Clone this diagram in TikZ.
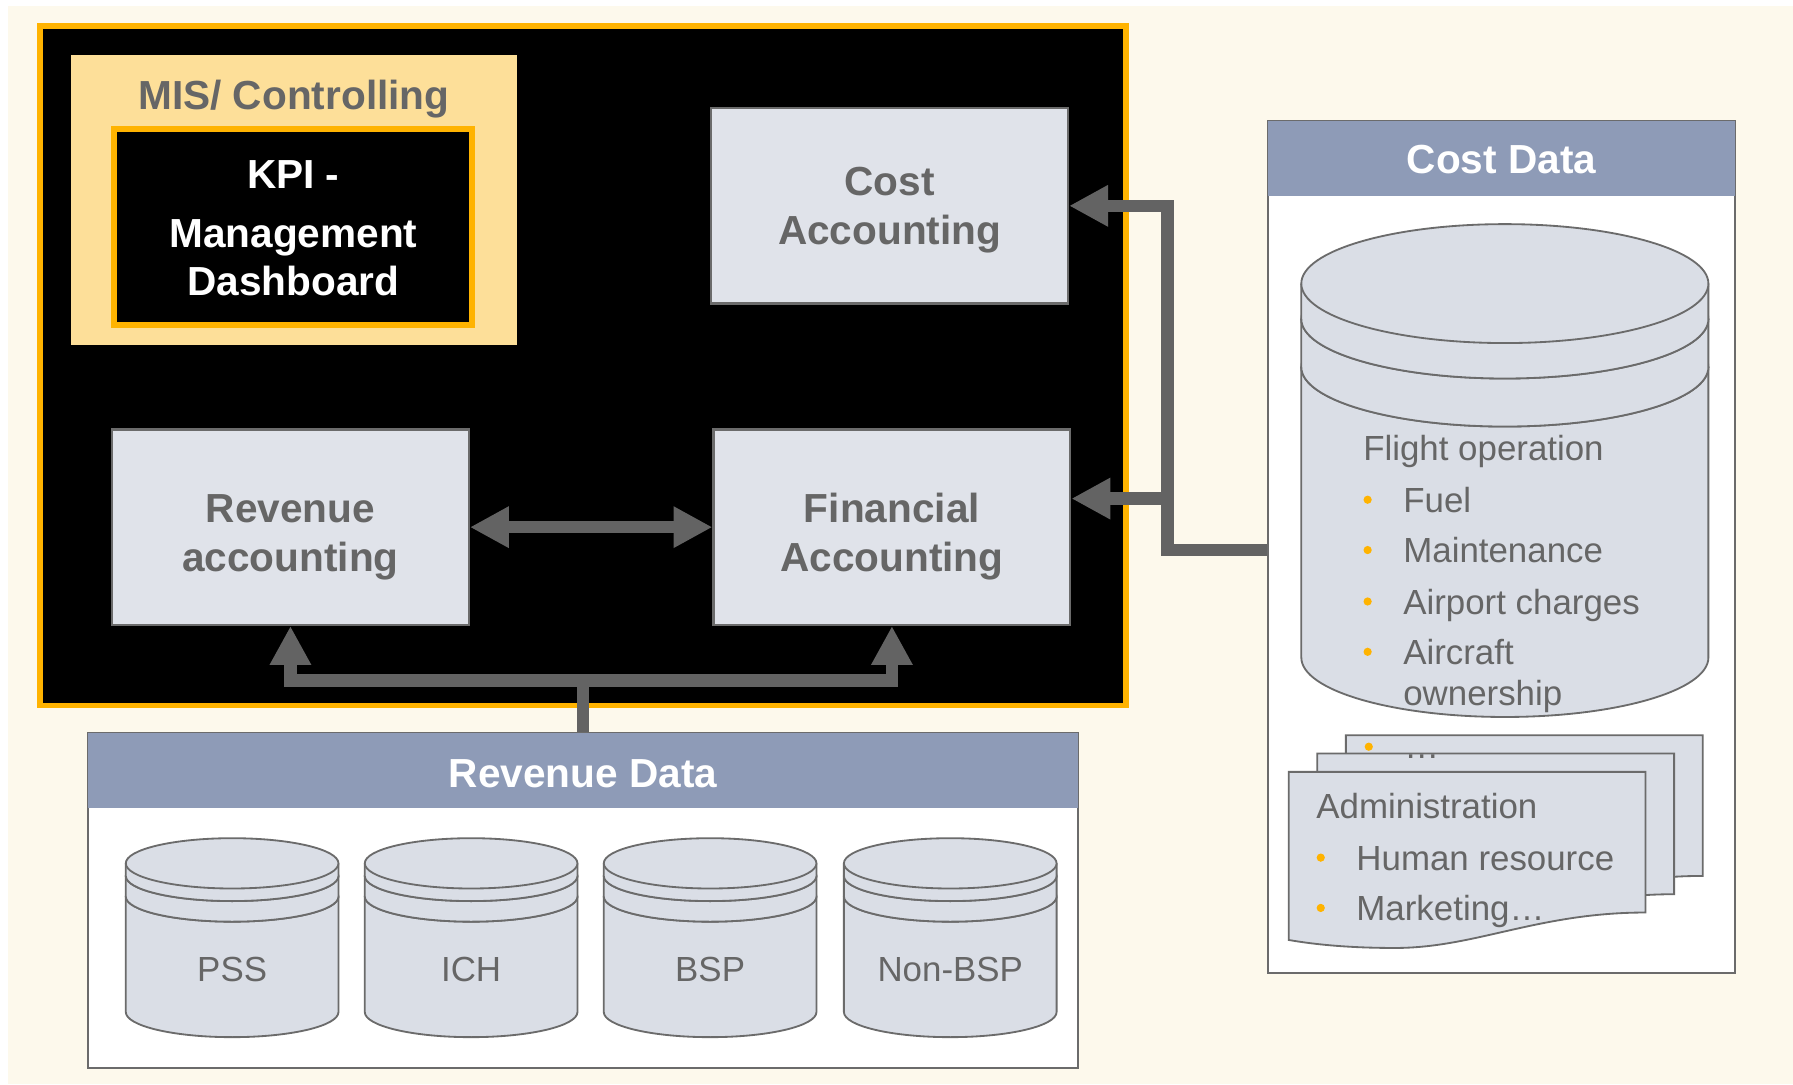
\documentclass[tikz,border=0pt]{standalone}
\usepackage{fontspec}
\setmainfont{Liberation Sans}
\usetikzlibrary{arrows.meta,calc}
\definecolor{cream}{HTML}{FDF9EC}
\definecolor{gold}{HTML}{FFB300}
\definecolor{misfill}{HTML}{FDDF99}
\definecolor{boxfill}{HTML}{E0E3EA}
\definecolor{cylfill}{HTML}{DADEE6}
\definecolor{txtgray}{HTML}{666666}
\definecolor{linegray}{HTML}{6B6B6B}
\definecolor{hdr}{HTML}{8E9BB7}
\definecolor{arrgray}{HTML}{636363}
% stacked-disc cylinder: #1 cx, #2 rx, #3 ry, #4 yA, #5 yB, #6 yC, #7 ybottom
\newcommand\mycyl[7]{%
  \filldraw[cylline] (#1-#2,#6) -- (#1-#2,#7) arc[start angle=180,end angle=0,x radius=#2,y radius=#3] -- (#1+#2,#6);
  \filldraw[cylline] (#1,#6) ellipse[x radius=#2,y radius=#3];
  \filldraw[cylline] (#1-#2,#5) -- (#1-#2,#6) arc[start angle=180,end angle=0,x radius=#2,y radius=#3] -- (#1+#2,#5);
  \filldraw[cylline] (#1,#5) ellipse[x radius=#2,y radius=#3];
  \filldraw[cylline] (#1-#2,#4) -- (#1-#2,#5) arc[start angle=180,end angle=0,x radius=#2,y radius=#3] -- (#1+#2,#4);
  \filldraw[cylline] (#1,#4) ellipse[x radius=#2,y radius=#3];
}
\newcommand\mydocpath{(1127,675) -- (1439,675) -- (1439,798) .. controls (1345,798) and (1290,829) .. (1220,829) .. controls (1180,829) and (1150,826) .. (1127,822) -- cycle}
\begin{document}
\begin{tikzpicture}[x=1pt,y=-1pt,
  boldtxt/.style={font=\fontsize{35.5}{43}\selectfont\bfseries},
  bodytxt/.style={font=\fontsize{30.5}{36}\selectfont, text=txtgray, inner sep=0pt},
  lblc/.style={inner sep=0pt, anchor=base},
  lblw/.style={bodytxt, anchor=base west},
  acbox/.style={draw=linegray, line width=2pt, fill=boxfill, inner sep=0pt, minimum width=312pt, minimum height=171pt},
  databox/.style={draw=linegray, line width=2pt, fill=white, inner sep=0pt},
  hdrbox/.style={fill=hdr, inner sep=0pt},
  cylline/.style={draw=linegray, line width=1.6pt, fill=cylfill},
  pagestyle/.style={draw=linegray, line width=1.6pt, fill=cylfill},
  arr/.style={draw=arrgray, line width=11pt, line join=miter},
  tip/.tip={Triangle[length=34pt,width=34pt]},
  bul/.style={fill=gold}
]
\useasboundingbox (0,0) rectangle (1568,948);
\fill[white] (0,0) rectangle (1568,948);
\fill[cream] (7,5) rectangle (1568,948);

% main system block
\node[draw=gold, line width=5pt, fill=black, inner sep=0pt, minimum width=950pt, minimum height=594pt] (sys) at (510,320) {};
\node[fill=misfill, inner sep=0pt, minimum width=390pt, minimum height=254pt] (mis) at (257,175) {};
\node[boldtxt, lblc, text=txtgray] (misT) at (257,96) {MIS/ Controlling};
\node[draw=gold, line width=5pt, fill=black, inner sep=0pt, minimum width=313pt, minimum height=171pt] (kpi) at (256.5,198.5) {};
\node[boldtxt, lblc, text=white] (kpiT1) at (256.5,165) {KPI -};
\node[boldtxt, lblc, text=white] (kpiT2) at (256.5,216) {Management};
\node[boldtxt, lblc, text=white] (kpiT3) at (256.5,258) {Dashboard};

\node[acbox] (cost) at (778,180) {};
\node[boldtxt, lblc, text=txtgray] (costT1) at (778,171) {Cost};
\node[boldtxt, lblc, text=txtgray] (costT2) at (778,214) {Accounting};

\node[acbox] (rev) at (254,461) {};
\node[boldtxt, lblc, text=txtgray] (revT1) at (254,457) {Revenue};
\node[boldtxt, lblc, text=txtgray] (revT2) at (254,500) {accounting};

\node[acbox] (fin) at (780,461) {};
\node[boldtxt, lblc, text=txtgray] (finT1) at (780,457) {Financial};
\node[boldtxt, lblc, text=txtgray] (finT2) at (780,500) {Accounting};

% revenue data
\node[databox, minimum width=866pt, minimum height=293pt] (revdata) at (510,787.5) {};
\node[hdrbox, minimum width=866pt, minimum height=66pt] (revhdr) at (510,674) {};
\node[boldtxt, lblc, text=white] (revhdrT) at (510,689) {Revenue Data};
\mycyl{203}{93}{22}{755}{766}{784}{885}
\mycyl{412}{93}{22}{755}{766}{784}{885}
\mycyl{621}{93}{22}{755}{766}{784}{885}
\mycyl{831}{93}{22}{755}{766}{784}{885}
\node[bodytxt, lblc] (pss) at (203,858) {PSS};
\node[bodytxt, lblc] (ich) at (412,858) {ICH};
\node[bodytxt, lblc] (bsp) at (621,858) {BSP};
\node[bodytxt, lblc] (nbsp) at (831,858) {Non-BSP};

% cost data
\node[databox, minimum width=408pt, minimum height=745pt] (costbox) at (1313,478.5) {};
\node[hdrbox, minimum width=408pt, minimum height=65pt] (costhdr) at (1313,138.5) {};
\node[boldtxt, lblc, text=white] (costhdrT) at (1313,152) {Cost Data};
\mycyl{1316}{178}{52}{248}{279}{321}{575}
\node[lblw] (fo) at (1192,403) {Flight operation};
\fill[bul] (1196,437) circle[radius=3.6];
\node[lblw] (fuel) at (1227,448) {Fuel};
\fill[bul] (1196,481) circle[radius=3.6];
\node[lblw] (maint) at (1227,492) {Maintenance};
\fill[bul] (1196,526) circle[radius=3.6];
\node[lblw] (airp) at (1227,537) {Airport charges};
\fill[bul] (1196,570) circle[radius=3.6];
\node[lblw, align=left] (airc) at (1227,581) {Aircraft};
\node[lblw] (own) at (1227,617) {ownership};

% stacked pages
\begin{scope}[shift={(50,-32)}]
  \filldraw[pagestyle] \mydocpath;
\end{scope}
\fill[bul] (1197,653) circle[radius=3.6];
\begin{scope}[shift={(25,-16)}]
  \filldraw[pagestyle] \mydocpath;
\end{scope}
\node[lblw] (dots) at (1228,663) {\dots};
\filldraw[pagestyle] \mydocpath;
\node[lblw] (adm) at (1151,716) {Administration};
\fill[bul] (1155,750) circle[radius=3.6];
\node[lblw] (hr) at (1186,761) {Human resource};
\fill[bul] (1155,794) circle[radius=3.6];
\node[lblw] (mkt) at (1186,805) {Marketing\dots};

% connectors
\draw[arr, tip-tip] (rev.east) -- (fin.west);
\coordinate (barmid) at (510,595);
\draw[arr, tip-tip] (rev.south) |- (barmid) -| (fin.south);
\draw[arr] (revdata.north) -- (barmid);
\coordinate (cj) at (1021,481);
\coordinate (jb) at (1021,436);
\draw[arr, -tip] (cj -| costbox.west) -- (cj) |- (cost.east);
\draw[arr, -tip] (jb) -- (jb -| fin.east);
\end{tikzpicture}
\end{document}
